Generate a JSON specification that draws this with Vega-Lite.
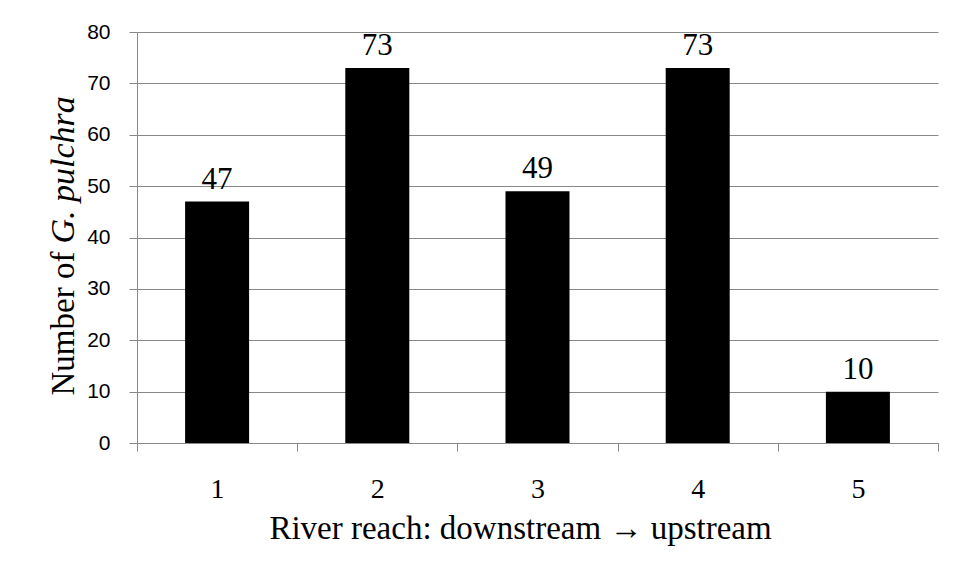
{
  "$schema": "https://vega.github.io/schema/vega-lite/v6.json",
  "width": 801,
  "height": 411,
  "autosize": "none",
  "padding": {"left": 137, "top": 32, "right": 19, "bottom": 132},
  "background": "white",
  "config": {"view": {"stroke": null}},
  "data": {
    "values": [
      {"reach": 1, "count": 47},
      {"reach": 2, "count": 73},
      {"reach": 3, "count": 49},
      {"reach": 4, "count": 73},
      {"reach": 5, "count": 10}
    ]
  },
  "encoding": {
    "x": {
      "field": "reach",
      "type": "quantitative",
      "scale": {"domain": [0.5, 5.5], "nice": false, "zero": false, "padding": 0},
      "axis": {
        "values": [0.5, 1.5, 2.5, 3.5, 4.5, 5.5],
        "labelExpr": "datum.value < 5 ? format(datum.value + 0.5, 'd') : ''",
        "labelOffset": 80.1,
        "labelOverlap": false,
        "labelFlush": false,
        "labelBound": false,
        "ticks": true,
        "tickSize": 8,
        "tickColor": "#888888",
        "domainColor": "#888888",
        "grid": false,
        "labelFont": "Liberation Serif",
        "labelFontSize": 28,
        "labelColor": "black",
        "labelBaseline": "alphabetic",
        "labelPadding": 46,
        "title": "River reach: downstream → upstream",
        "titleFont": "Liberation Serif",
        "titleFontSize": 33,
        "titleFontWeight": "normal",
        "titleColor": "black",
        "titleBaseline": "alphabetic",
        "titleAlign": "center",
        "titleX": 383,
        "titleY": 95
      }
    }
  },
  "layer": [
    {
      "mark": {"type": "bar", "size": 64, "color": "black"},
      "encoding": {
        "y": {
          "field": "count",
          "type": "quantitative",
          "scale": {"domain": [0, 80], "nice": false},
          "axis": {
            "values": [0, 10, 20, 30, 40, 50, 60, 70, 80],
            "grid": true,
            "gridColor": "#888888",
            "domainColor": "#888888",
            "tickColor": "#888888",
            "tickSize": 8,
            "labelFont": "Liberation Sans",
            "labelFontSize": 21,
            "labelColor": "black",
            "labelPadding": 19,
            "title": "Number of ",
            "titleFont": "Liberation Serif",
            "titleFontSize": 33,
            "titleFontWeight": "normal",
            "titleColor": "black",
            "titleAngle": 270,
            "titleAlign": "left",
            "titleBaseline": "alphabetic",
            "titleX": -64,
            "titleY": 363
          }
        }
      }
    },
    {
      "mark": {"type": "text", "font": "Liberation Serif", "fontSize": 31, "baseline": "alphabetic", "dy": -13, "color": "black"},
      "encoding": {
        "y": {
          "field": "count",
          "type": "quantitative",
          "axis": {
            "orient": "left",
            "domain": false,
            "ticks": false,
            "labels": false,
            "grid": false,
            "title": "G. pulchra",
            "titleFont": "Liberation Serif",
            "titleFontSize": 34,
            "titleFontWeight": "normal",
            "titleFontStyle": "italic",
            "titleColor": "black",
            "titleAngle": 270,
            "titleAlign": "left",
            "titleBaseline": "alphabetic",
            "titleX": -64,
            "titleY": 211
          }
        },
        "text": {"field": "count", "type": "quantitative"}
      }
    }
  ],
  "resolve": {"axis": {"y": "independent"}}
}
